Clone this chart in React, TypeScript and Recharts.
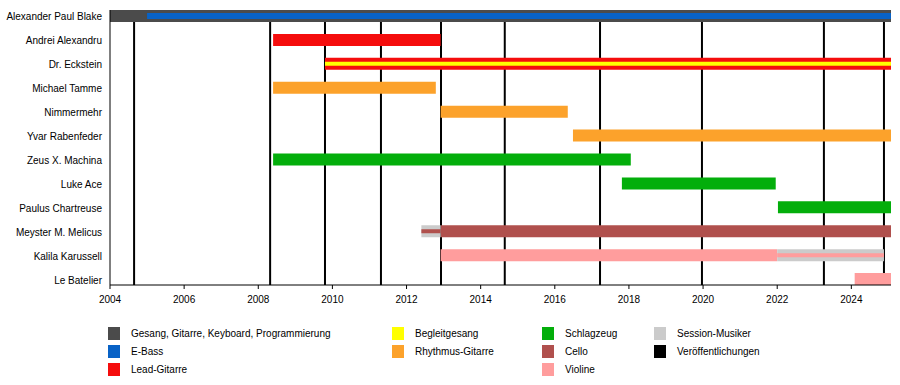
import { BarChart, Bar, XAxis, YAxis, ReferenceLine } from "recharts";

type Span = { name: string; from: number; to: number };

const END = 2025.07;

const members = [
  "Alexander Paul Blake",
  "Andrei Alexandru",
  "Dr. Eckstein",
  "Michael Tamme",
  "Nimmermehr",
  "Yvar Rabenfeder",
  "Zeus X. Machina",
  "Luke Ace",
  "Paulus Chartreuse",
  "Meyster M. Melicus",
  "Kalila Karussell",
  "Le Batelier",
];

// Hauptrollen (volle Balkenhöhe)
const vocals: Span[] = [{ name: "Alexander Paul Blake", from: 2004, to: END }];
const leadGuitar: Span[] = [
  { name: "Andrei Alexandru", from: 2008.4, to: 2012.92 },
  { name: "Dr. Eckstein", from: 2009.8, to: END },
];
const rhythmGuitar: Span[] = [
  { name: "Michael Tamme", from: 2008.4, to: 2012.79 },
  { name: "Nimmermehr", from: 2012.92, to: 2016.35 },
  { name: "Yvar Rabenfeder", from: 2016.49, to: END },
];
const drums: Span[] = [
  { name: "Zeus X. Machina", from: 2008.4, to: 2018.05 },
  { name: "Luke Ace", from: 2017.81, to: 2021.96 },
  { name: "Paulus Chartreuse", from: 2022.02, to: END },
];
const cello: Span[] = [{ name: "Meyster M. Melicus", from: 2012.92, to: END }];
const violin: Span[] = [
  { name: "Kalila Karussell", from: 2012.92, to: 2022 },
  { name: "Le Batelier", from: 2024.09, to: END },
];
const session: Span[] = [
  { name: "Meyster M. Melicus", from: 2012.4, to: 2012.92 },
  { name: "Kalila Karussell", from: 2022, to: 2024.88 },
];

// Nebenrollen (schmaler Streifen im Balken)
const bass: Span[] = [{ name: "Alexander Paul Blake", from: 2005, to: END }];
const backingVocals: Span[] = [{ name: "Dr. Eckstein", from: 2009.8, to: END }];
const sessionCello: Span[] = [{ name: "Meyster M. Melicus", from: 2012.4, to: 2012.92 }];
const sessionViolin: Span[] = [{ name: "Kalila Karussell", from: 2022, to: 2024.88 }];

const releases = [
  2004.65, 2008.32, 2009.8, 2011.31, 2012.93, 2014.65, 2017.22, 2019.97, 2023.26, 2024.88,
];

const yearTicks = [2004, 2006, 2008, 2010, 2012, 2014, 2016, 2018, 2020, 2022, 2024];

const COLORS = {
  vocals: "#4b4b4b",
  bass: "#0862c6",
  lead: "#f50d0d",
  backing: "#ffff00",
  rhythm: "#fca22b",
  drums: "#03ae0b",
  cello: "#b0504d",
  violin: "#ff9d9d",
  session: "#cbcbcb",
  release: "#000000",
};

const fullSeries = [
  { key: "vocals", spans: vocals, color: COLORS.vocals },
  { key: "lead", spans: leadGuitar, color: COLORS.lead },
  { key: "rhythm", spans: rhythmGuitar, color: COLORS.rhythm },
  { key: "drums", spans: drums, color: COLORS.drums },
  { key: "cello", spans: cello, color: COLORS.cello },
  { key: "violin", spans: violin, color: COLORS.violin },
  { key: "session", spans: session, color: COLORS.session },
];

const thinSeries = [
  { key: "bass", spans: bass, color: COLORS.bass, size: 6 },
  { key: "backing", spans: backingVocals, color: COLORS.backing, size: 4 },
  { key: "sessionCello", spans: sessionCello, color: COLORS.cello, size: 4 },
  { key: "sessionViolin", spans: sessionViolin, color: COLORS.violin, size: 4 },
];

const legendColumns = [
  [
    { label: "Gesang, Gitarre, Keyboard, Programmierung", color: COLORS.vocals },
    { label: "E-Bass", color: COLORS.bass },
    { label: "Lead-Gitarre", color: COLORS.lead },
  ],
  [
    { label: "Begleitgesang", color: COLORS.backing },
    { label: "Rhythmus-Gitarre", color: COLORS.rhythm },
  ],
  [
    { label: "Schlagzeug", color: COLORS.drums },
    { label: "Cello", color: COLORS.cello },
    { label: "Violine", color: COLORS.violin },
  ],
  [
    { label: "Session-Musiker", color: COLORS.session },
    { label: "Veröffentlichungen", color: COLORS.release },
  ],
];
const legendX = [108, 392, 542, 654];

const allSeries = [...fullSeries, ...thinSeries];

const rows = members.map((name) => {
  const row: Record<string, any> = { name };
  allSeries.forEach((s) => {
    const span = s.spans.find((sp) => sp.name === name);
    if (span) row[s.key] = [span.from, span.to];
  });
  return row;
});

const FONT = "'Liberation Sans', Arial, sans-serif";
const PAD = { top: -6, bottom: -6 };

// plain one-line label, Recharts would wrap long names otherwise
const NameTick = ({ x, y, payload }: any) => (
  <text
    x={x}
    y={y}
    dy="0.45em"
    textAnchor="end"
    fontSize={10}
    fontFamily={FONT}
    fill="#000"
  >
    {payload.value}
  </text>
);

export default function App() {
  return (
    <div
      style={{
        position: "absolute",
        left: 0,
        top: 0,
        width: 900,
        height: 385,
        background: "#fff",
        fontFamily: FONT,
      }}
    >
      <BarChart
        width={900}
        height={385}
        data={rows}
        layout="vertical"
        margin={{ top: 10, right: 9, left: 0, bottom: 70 }}
      >
        <XAxis
          type="number"
          domain={[2004, END]}
          ticks={yearTicks}
          allowDataOverflow
          height={30}
          axisLine={{ stroke: "#000" }}
          tickLine={{ stroke: "#000" }}
          tickSize={4}
          tickMargin={7}
          tick={{ fontSize: 10, fill: "#000", fontFamily: FONT }}
        />
        <YAxis
          yAxisId="names"
          type="category"
          dataKey="name"
          width={110}
          padding={PAD}
          axisLine={{ stroke: "#000" }}
          tickLine={false}
          interval={0}
          tick={<NameTick />}
        />
        <YAxis yAxisId="frame" type="number" domain={[0, 1]} width={0} hide />
        {allSeries.map((s) => (
          <YAxis
            key={s.key}
            yAxisId={s.key}
            type="category"
            dataKey="name"
            padding={PAD}
            width={0}
            hide
          />
        ))}
        {releases.map((r) => (
          <ReferenceLine
            key={r}
            x={r}
            yAxisId="frame"
            stroke={COLORS.release}
            strokeWidth={2}
            zIndex={100}
          />
        ))}
        {fullSeries.map((s) => (
          <Bar
            key={s.key}
            dataKey={s.key}
            yAxisId={s.key}
            fill={s.color}
            barSize={12}
            isAnimationActive={false}
          />
        ))}
        {thinSeries.map((s) => (
          <Bar
            key={s.key}
            dataKey={s.key}
            yAxisId={s.key}
            fill={s.color}
            barSize={s.size}
            isAnimationActive={false}
          />
        ))}
      </BarChart>
      {legendColumns.map((col, ci) =>
        col.map((item, ri) => (
          <div
            key={item.label}
            style={{
              position: "absolute",
              left: legendX[ci],
              top: 327 + ri * 18,
              height: 13,
              display: "flex",
              alignItems: "center",
              fontSize: 10,
              color: "#000",
              whiteSpace: "nowrap",
            }}
          >
            <span
              style={{
                display: "inline-block",
                width: 12,
                height: 13,
                background: item.color,
                marginRight: 11,
              }}
            />
            {item.label}
          </div>
        ))
      )}
    </div>
  );
}
